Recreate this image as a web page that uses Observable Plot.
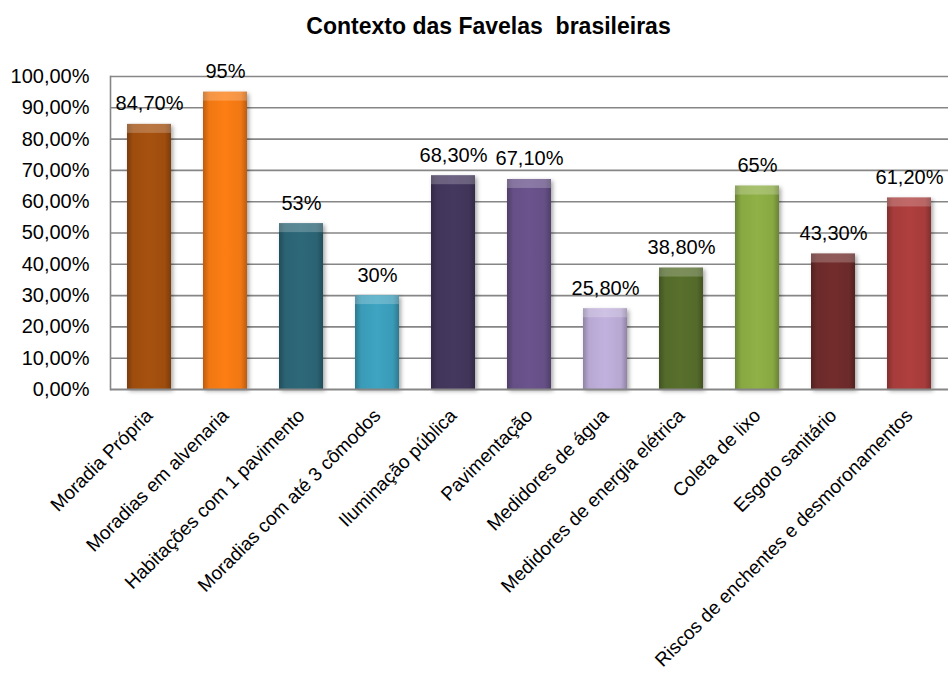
<!DOCTYPE html>
<html>
<head>
<meta charset="utf-8">
<script src="https://cdn.jsdelivr.net/npm/d3@7"></script>
<script src="https://cdn.jsdelivr.net/npm/@observablehq/plot@0.6"></script>
<style>
  html, body { margin: 0; padding: 0; background: white; overflow: hidden; }
  .bars rect { filter: drop-shadow(2px 2px 2px rgba(0,0,0,0.35)); }
</style>
</head>
<body>
<div id="chart"></div>
<script>
const title = "Contexto das Favelas  brasileiras";
const categories = [
  "Moradia Própria",
  "Moradias em alvenaria",
  "Habitações com 1 pavimento",
  "Moradias com até 3 cômodos",
  "Iluminação pública",
  "Pavimentação",
  "Medidores de água",
  "Medidores de energia elétrica",
  "Coleta de lixo",
  "Esgoto sanitário",
  "Riscos de enchentes e desmoronamentos"
];
const values = [0.847, 0.95, 0.53, 0.30, 0.683, 0.671, 0.258, 0.388, 0.65, 0.433, 0.612];
const valueLabels = ["84,70%", "95%", "53%", "30%", "68,30%", "67,10%", "25,80%", "38,80%", "65%", "43,30%", "61,20%"];
const colors = ["#9E4D0E", "#F07712", "#2B6373", "#3A9BB7", "#41355A", "#654F86", "#B7A8D2", "#536A2A", "#88A842", "#6C2A2A", "#A63C3B"];
const yTicks = [0, 0.1, 0.2, 0.3, 0.4, 0.5, 0.6, 0.7, 0.8, 0.9, 1.0];
const yTickLabels = ["0,00%", "10,00%", "20,00%", "30,00%", "40,00%", "50,00%", "60,00%", "70,00%", "80,00%", "90,00%", "100,00%"];

const data = categories.map((c, i) => ({category: c, value: values[i], label: valueLabels[i], color: colors[i]}));

const chart = Plot.plot({
  width: 948,
  height: 677,
  marginLeft: 110,
  marginRight: 0,
  marginTop: 76,
  marginBottom: 288,
  style: {fontFamily: "'Liberation Sans', Arial, sans-serif", fontSize: "20px", color: "black", background: "white"},
  x: {domain: categories, paddingInner: 0.42, paddingOuter: 0.21, label: null},
  y: {domain: [0, 1], label: null},
  color: {type: "identity"},
  marks: [
    Plot.ruleY(yTicks.slice(1), {stroke: "#868686", strokeWidth: 1.6}),
    Plot.axisY({ticks: yTicks, tickFormat: d => yTickLabels[yTicks.indexOf(d)], tickSize: 0, tickPadding: 21, fontSize: 20, label: null}),
    Plot.axisX({tickRotate: -45, tickSize: 0, tickPadding: 23, fontSize: 19, label: null}),
    Plot.barY(data, {x: "category", y: "value", fill: "color", className: "bars"}),
    Plot.barY(data, {x: "category", y1: "value", y2: "value", insetBottom: -9, fill: "white", fillOpacity: 0.22}),
    Plot.text(data, {x: "category", y: "value", text: "label", dy: -14, lineAnchor: "bottom", fontSize: 20}),
    Plot.frame({anchor: "left", stroke: "#868686", strokeWidth: 1.6}),
    Plot.ruleY([0], {stroke: "#868686", strokeWidth: 2.2}),
    Plot.text([title], {text: d => d, frameAnchor: "top", dx: -41, dy: -43, lineAnchor: "bottom", fontSize: 23, fontWeight: "bold"})
  ]
});

// bevel-like horizontal gradient for each bar
const svgNS = "http://www.w3.org/2000/svg";
const defs = document.createElementNS(svgNS, "defs");
chart.insertBefore(defs, chart.firstChild);
chart.querySelectorAll(".bars rect").forEach((rect, i) => {
  const base = rect.getAttribute("fill");
  const dark = d3.color(base).darker(0.7).formatHex();
  const light = d3.color(base).brighter(0.15).formatHex();
  const g = document.createElementNS(svgNS, "linearGradient");
  g.setAttribute("id", "barGrad" + i);
  g.setAttribute("x1", "0"); g.setAttribute("x2", "1"); g.setAttribute("y1", "0"); g.setAttribute("y2", "0");
  [[0, dark], [0.14, base], [0.5, light], [0.86, base], [1, dark]].forEach(([o, c]) => {
    const s = document.createElementNS(svgNS, "stop");
    s.setAttribute("offset", o);
    s.setAttribute("stop-color", c);
    g.appendChild(s);
  });
  defs.appendChild(g);
  rect.setAttribute("fill", `url(#barGrad${i})`);
});

document.getElementById("chart").appendChild(chart);
</script>
</body>
</html>
